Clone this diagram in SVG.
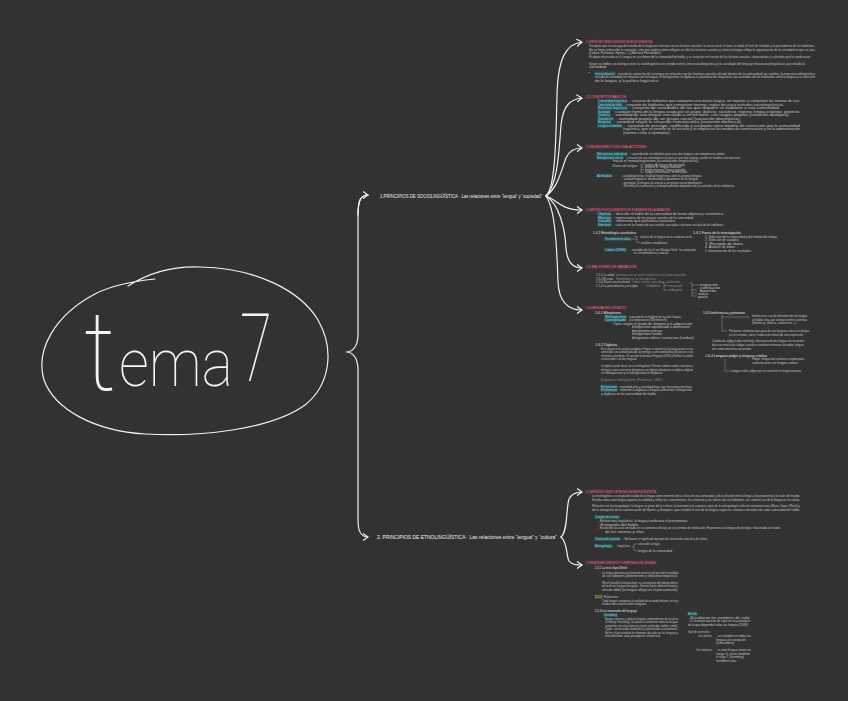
<svg xmlns="http://www.w3.org/2000/svg" width="848" height="701" viewBox="0 0 848 701">
<defs>
<marker id="ah" viewBox="0 0 6 8" refX="5.5" refY="4" markerWidth="6" markerHeight="8" markerUnits="userSpaceOnUse" orient="auto"><path d="M0.5,0.5 L5.5,4 L0.5,7.5" fill="none" stroke="#f2f2f2" stroke-width="1.1" stroke-linecap="round" stroke-linejoin="round"/></marker>
<style>
.ln{fill:none;stroke:#f2f2f2;stroke-width:1.2;stroke-linecap:round}
.tl{fill:none;stroke:#b8b8b8;stroke-width:0.4}
text{font-family:"Liberation Sans",Arial,sans-serif}
.b{font-size:3px;fill:#c2c2c2}
.g{font-size:3px;fill:#8a8a8a}
.w{font-size:3.1px;fill:#e6e6e6}
.h{font-size:3.1px;fill:#e27590}
.hb{fill:#4a2e37}
.c{font-size:3px;fill:#88d4df}
.cb{fill:#2a555c}
.y{font-size:3px;fill:#e0d27a}
.yb{fill:#524d2b}
.m{font-size:4.6px;fill:#f0f0f0}
.big{font-family:Roboto,"Lato","DejaVu Sans",sans-serif;font-weight:100;fill:#f4f4f4}
</style>
</defs>
<rect width="848" height="701" fill="#323232"/>

<g id="tema7">
<path class="ln" d="M128,286 C150,272 175,266 200,267 C255,268 300,290 318,320 C335,350 330,385 305,405 C270,430 200,437 145,434 C95,431 55,410 44,380 C35,350 55,315 95,294 C110,286 135,281 155,279"/>
<text class="big" x="84" y="390" font-size="112" textLength="32" lengthAdjust="spacingAndGlyphs">t</text>
<text class="big" x="119" y="386" font-size="66" textLength="114" lengthAdjust="spacingAndGlyphs">ema</text>
<text class="big" x="240" y="381" font-size="94" textLength="32" lengthAdjust="spacingAndGlyphs">7</text>
</g>

<g id="connectors">
<path class="ln" d="M368,195 C361,195 358,200 358,215 L358,334 C358,346 353,352 346,352 C353,352 358,358 358,370 L358,520 C358,532 361,537 368,537" marker-end="url(#ah)"/>
<path class="ln" d="M358,215 C358,200 361,195 368,195" marker-end="url(#ah)"/>
<path class="ln" d="M546,196 C556,188 556,130 557,95 C558,58 566,44 582,42" marker-end="url(#ah)"/>
<path class="ln" d="M546,196 C558,184 559,150 561,125 C563,106 570,99 582,98" marker-end="url(#ah)"/>
<path class="ln" d="M546,196 C558,188 562,168 566,158 C569,151 574,148 582,148" marker-end="url(#ah)"/>
<path class="ln" d="M546,196 C556,199 560,210 582,210" marker-end="url(#ah)"/>
<path class="ln" d="M546,196 C559,204 565,228 566,248 C567,262 573,268 582,268" marker-end="url(#ah)"/>
<path class="ln" d="M546,196 C556,210 557,255 558,282 C559,302 568,310 582,310" marker-end="url(#ah)"/>
<path class="ln" d="M561,537 C568,531 566,508 569,499 C572,493 577,492 582,492" marker-end="url(#ah)"/>
<path class="ln" d="M561,537 C568,543 566,556 569,561 C572,565 577,565 582,565" marker-end="url(#ah)"/>
</g>

<g id="n1">
<text class="m" x="380" y="197.5" textLength="162" lengthAdjust="spacingAndGlyphs">1.PRINCIPIOS  DE  SOCIOLINGÜÍSTICA · Las relaciones  entre “lengua” y “sociedad”</text>
</g>
<g id="n2">
<text class="m" x="377" y="539" textLength="180" lengthAdjust="spacingAndGlyphs">2. PRINCIPIOS  DE  ETNOLINGÜÍSTICA · Las relaciones entre “lengua” y “cultura”</text>
</g>

<g id="n11">
<rect class="hb" x="585" y="39.5" width="68" height="4.2"/>
<text class="h" x="586" y="42.8" textLength="66" lengthAdjust="spacingAndGlyphs">1.1 DEFINICIÓN Y OBJETO DE ESTUDIO DE LA SOCIOLINGÜÍSTICA</text>
<text class="b" x="589" y="47" textLength="226" lengthAdjust="spacingAndGlyphs">Disciplina que se encarga del estudio de la lengua en relación con los factores sociales: la clase social, el sexo, la edad, el nivel de estudios y la procedencia de los hablantes.</text>
<text class="b" x="589" y="50.5" textLength="226" lengthAdjust="spacingAndGlyphs">No se limita a describir la variación, sino que explica cómo influyen en ella los factores sociales y cómo la lengua refleja la organización de la sociedad en que se usa.</text>
<text class="b" x="589" y="54" textLength="72" lengthAdjust="spacingAndGlyphs">(Labov, Fishman, Hymes...)  (Moreno Fernández)</text>
<text class="b" x="589" y="57.5" textLength="222" lengthAdjust="spacingAndGlyphs">El objeto de estudio es la lengua en uso dentro de la comunidad de habla, y su variación en función de los factores sociales, situacionales y culturales que la condicionan.</text>
<text class="b" x="589" y="64.5" textLength="216" lengthAdjust="spacingAndGlyphs">Según su ámbito, se distingue entre la sociolingüística en sentido estricto (microsociolingüística) y la sociología del lenguaje (macrosociolingüística), que estudia la</text>
<text class="b" x="589" y="68" textLength="18" lengthAdjust="spacingAndGlyphs">sociedad.</text>
<text class="b" x="588" y="74.5">**</text>
<rect class="cb" x="594.5" y="71.7" width="21" height="3.8"/>
<text class="c" x="595" y="74.5" textLength="20" lengthAdjust="spacingAndGlyphs">microsociolingüística</text>
<text class="b" x="618" y="74.5" textLength="197" lengthAdjust="spacingAndGlyphs">estudia la variación de la lengua en relación con los factores sociales desde dentro de la comunidad; en cambio, la macrosociolingüística</text>
<text class="b" x="595" y="78" textLength="220" lengthAdjust="spacingAndGlyphs">estudia la sociedad en relación con la lengua: el bilingüismo, la diglosia, la planificación lingüística, las actitudes de los hablantes ante la lengua y su elección</text>
<text class="b" x="595" y="81.5" textLength="64" lengthAdjust="spacingAndGlyphs">de la lengua, y la política lingüística.</text>
</g>

<g id="n12">
<rect class="hb" x="585" y="94.5" width="42" height="4.2"/>
<text class="h" x="586" y="97.8" textLength="40" lengthAdjust="spacingAndGlyphs">1.2 CONCEPTOS BÁSICOS</text>
<rect class="cb" x="597.5" y="99.2" width="30" height="3.8"/>
<text class="c" x="598" y="102" textLength="29" lengthAdjust="spacingAndGlyphs">Comunidad lingüística</text>
<text class="b" x="630" y="102" textLength="170" lengthAdjust="spacingAndGlyphs">: conjunto de hablantes que comparten una misma lengua, sin importar si comparten las normas de uso.</text>
<rect class="cb" x="597.5" y="102.7" width="25" height="3.8"/>
<text class="c" x="598" y="105.5" textLength="24" lengthAdjust="spacingAndGlyphs">Comunidad de habla</text>
<text class="b" x="624" y="105.5" textLength="160" lengthAdjust="spacingAndGlyphs">: conjunto de hablantes que comparten normas, reglas de uso y actitudes sociolingüísticas.</text>
<rect class="cb" x="597.5" y="106.2" width="30" height="3.8"/>
<text class="c" x="598" y="109" textLength="29" lengthAdjust="spacingAndGlyphs">Repertorio lingüístico</text>
<text class="b" x="630" y="109" textLength="150" lengthAdjust="spacingAndGlyphs">: conjunto de variedades de las que dispone un hablante o una comunidad.</text>
<rect class="cb" x="597.5" y="109.7" width="13" height="3.8"/>
<text class="c" x="598" y="112.5" textLength="12" lengthAdjust="spacingAndGlyphs">Variedad</text>
<text class="b" x="613" y="112.5" textLength="187" lengthAdjust="spacingAndGlyphs">: cualquier forma de la lengua usada por un grupo: dialecto, sociolecto, registro, lengua estándar, geolecto.</text>
<rect class="cb" x="597.5" y="113.2" width="13" height="3.8"/>
<text class="c" x="598" y="116" textLength="12" lengthAdjust="spacingAndGlyphs">Dialecto</text>
<text class="b" x="613" y="116" textLength="177" lengthAdjust="spacingAndGlyphs">: variedad de una lengua vinculada a un territorio, con rasgos propios (variación diatópica).</text>
<rect class="cb" x="597.5" y="116.7" width="16" height="3.8"/>
<text class="c" x="598" y="119.5" textLength="15" lengthAdjust="spacingAndGlyphs">Sociolecto</text>
<text class="b" x="616" y="119.5" textLength="125" lengthAdjust="spacingAndGlyphs">: variedad propia de un grupo social (variación diastrática).</text>
<rect class="cb" x="597.5" y="120.2" width="14" height="3.8"/>
<text class="c" x="598" y="123" textLength="13" lengthAdjust="spacingAndGlyphs">Registro</text>
<text class="b" x="614" y="123" textLength="128" lengthAdjust="spacingAndGlyphs">: variedad según la situación comunicativa (variación diafásica).</text>
<rect class="cb" x="597.5" y="123.7" width="25" height="3.8"/>
<text class="c" x="598" y="126.5" textLength="24" lengthAdjust="spacingAndGlyphs">Lengua estándar</text>
<text class="b" x="625" y="126.5" textLength="175" lengthAdjust="spacingAndGlyphs">: variedad de prestigio, codificada y aceptada como modelo de corrección por la comunidad</text>
<text class="b" x="623" y="130" textLength="177" lengthAdjust="spacingAndGlyphs">lingüística, que se enseña en la escuela y se emplea en los medios de comunicación y en la administración</text>
<text class="b" x="623" y="133.5" textLength="48" lengthAdjust="spacingAndGlyphs">(norma culta o ejemplar).</text>
</g>

<g id="n13">
<rect class="hb" x="585" y="144.5" width="62" height="4.2"/>
<text class="h" x="586" y="147.8" textLength="60" lengthAdjust="spacingAndGlyphs">1.3 BILINGÜISMO Y DIGLOSIA: ACTITUDES</text>
<rect class="cb" x="596.5" y="152.2" width="31" height="3.8"/>
<text class="c" x="597" y="155" textLength="30" lengthAdjust="spacingAndGlyphs">Bilingüismo individual</text>
<text class="b" x="630" y="155" textLength="95" lengthAdjust="spacingAndGlyphs">: capacidad de un individuo para usar dos lenguas con competencia similar.</text>
<rect class="cb" x="596.5" y="155.7" width="27" height="3.8"/>
<text class="c" x="597" y="158.5" textLength="26" lengthAdjust="spacingAndGlyphs">Bilingüismo social</text>
<text class="b" x="626" y="158.5" textLength="114" lengthAdjust="spacingAndGlyphs">: situación de una comunidad en la que se usan dos lenguas; puede ser estable o de transición</text>
<text class="b" x="613" y="162" textLength="86" lengthAdjust="spacingAndGlyphs">hacia el monolingüismo (sustitución lingüística).</text>
<text class="b" x="612" y="167" textLength="26" lengthAdjust="spacingAndGlyphs">Clases de lengua:</text>
<path class="tl" d="M641,164 L641,173 M641,164.5 L644,164.5 M641,167 L644,167 M641,169.5 L644,169.5 M641,172 L644,172"/>
<text class="b" x="645" y="165.5" textLength="40" lengthAdjust="spacingAndGlyphs">lengua A: lengua de prestigio</text>
<text class="b" x="645" y="168" textLength="36" lengthAdjust="spacingAndGlyphs">lengua B: lengua familiar</text>
<text class="b" x="645" y="170.5" textLength="40" lengthAdjust="spacingAndGlyphs">lengua materna / lengua segunda</text>
<text class="b" x="645" y="173" textLength="42" lengthAdjust="spacingAndGlyphs">lengua minoritaria / minorizada</text>
<rect class="cb" x="596.5" y="173.7" width="16" height="3.8"/>
<text class="c" x="597" y="176.5" textLength="15" lengthAdjust="spacingAndGlyphs">Actitudes</text>
<text class="b" x="615" y="176.5">:</text>
<text class="b" x="621" y="176.5" textLength="80" lengthAdjust="spacingAndGlyphs">- actitud positiva: lealtad lingüística ante la propia lengua</text>
<text class="b" x="622" y="180" textLength="76" lengthAdjust="spacingAndGlyphs">- actitud negativa: deslealtad y abandono de la lengua</text>
<text class="b" x="622" y="183.5" textLength="80" lengthAdjust="spacingAndGlyphs">- prestigio: la lengua se asocia a un grupo social dominante</text>
<text class="b" x="622" y="187" textLength="113" lengthAdjust="spacingAndGlyphs">- (Fishman) la sustitución y el desplazamiento dependen de las actitudes de los hablantes.</text>
</g>

<g id="n14">
<rect class="hb" x="585" y="207.5" width="86" height="4.2"/>
<text class="h" x="586" y="210.8" textLength="84" lengthAdjust="spacingAndGlyphs">1.4 MÉTODOS SOCIOLINGÜÍSTICOS: EL ANÁLISIS DE LA VARIACIÓN</text>
<rect class="cb" x="597.5" y="212.2" width="14" height="3.8"/>
<text class="c" x="598" y="215" textLength="13" lengthAdjust="spacingAndGlyphs">Objetivo</text>
<text class="b" x="614" y="215" textLength="110" lengthAdjust="spacingAndGlyphs">: describir el habla de la comunidad de forma objetiva y sistemática.</text>
<rect class="cb" x="597.5" y="215.7" width="14" height="3.8"/>
<text class="c" x="598" y="218.5" textLength="13" lengthAdjust="spacingAndGlyphs">Muestra</text>
<text class="b" x="614" y="218.5" textLength="80" lengthAdjust="spacingAndGlyphs">: representativa de los grupos sociales de la comunidad.</text>
<rect class="cb" x="597.5" y="219.2" width="14" height="3.8"/>
<text class="c" x="598" y="222" textLength="13" lengthAdjust="spacingAndGlyphs">Variable</text>
<text class="b" x="614" y="222" textLength="62" lengthAdjust="spacingAndGlyphs">: elemento que presenta variantes.</text>
<rect class="cb" x="597.5" y="222.7" width="14" height="3.8"/>
<text class="c" x="598" y="225.5" textLength="13" lengthAdjust="spacingAndGlyphs">Variante</text>
<text class="b" x="614" y="225.5" textLength="110" lengthAdjust="spacingAndGlyphs">: cada una de las formas de una variable, asociadas a factores sociales de los hablantes.</text>
<text class="w" x="593" y="233.5" textLength="43" lengthAdjust="spacingAndGlyphs">1.4.1 Metodología cuantitativa</text>
<path class="tl" d="M634,236.5 L637,236.5 L637,242.5 L640,242.5 M632,239 L637,239"/>
<text class="b" x="640" y="237.5" textLength="52" lengthAdjust="spacingAndGlyphs">análisis de la lengua en su contexto social</text>
<rect class="cb" x="604.5" y="237.2" width="27" height="3.8"/>
<text class="c" x="605" y="240" textLength="26" lengthAdjust="spacingAndGlyphs">Procedimiento de análisis</text>
<text class="b" x="641" y="243.5" textLength="26" lengthAdjust="spacingAndGlyphs">análisis estadístico</text>
<rect class="cb" x="604.5" y="247.7" width="22" height="3.8"/>
<text class="c" x="605" y="250.5" textLength="21" lengthAdjust="spacingAndGlyphs">Labov (1966)</text>
<text class="b" x="628" y="250.5" textLength="68" lengthAdjust="spacingAndGlyphs">→ estudio de la /r/ en Nueva York: la variación</text>
<text class="b" x="634" y="254" textLength="34" lengthAdjust="spacingAndGlyphs">es sistemática y social</text>
<text class="w" x="693" y="233.5" textLength="48" lengthAdjust="spacingAndGlyphs">1.4.2 Fases de la investigación</text>
<text class="b" x="705" y="237.5" textLength="72" lengthAdjust="spacingAndGlyphs">1. Selección de la comunidad y del ámbito de trabajo</text>
<text class="b" x="705" y="241" textLength="34" lengthAdjust="spacingAndGlyphs">2. Selección de variables</text>
<text class="b" x="705" y="244.5" textLength="38" lengthAdjust="spacingAndGlyphs">3. Recogida de datos</text>
<text class="b" x="705" y="248" textLength="30" lengthAdjust="spacingAndGlyphs">4. Análisis de datos</text>
<text class="b" x="705" y="251.5" textLength="46" lengthAdjust="spacingAndGlyphs">5. Interpretación de los resultados</text>
</g>

<g id="n15">
<rect class="hb" x="585" y="264.5" width="52" height="4.2"/>
<text class="h" x="586" y="267.8" textLength="50" lengthAdjust="spacingAndGlyphs">1.5 FACTORES DE VARIACIÓN</text>
<text class="b" x="596" y="276" textLength="18" lengthAdjust="spacingAndGlyphs">1.5.1 La edad</text>
<text class="g" x="616" y="276" textLength="70" lengthAdjust="spacingAndGlyphs">generaciones y cambio lingüístico en tiempo aparente</text>
<text class="b" x="596" y="279.5" textLength="17" lengthAdjust="spacingAndGlyphs">1.5.2 El sexo</text>
<text class="g" x="616" y="279.5" textLength="40" lengthAdjust="spacingAndGlyphs">hombres y mujeres</text>
<text class="b" x="596" y="283" textLength="34" lengthAdjust="spacingAndGlyphs">1.5.3 Nivel sociocultural</text>
<text class="g" x="632" y="283" textLength="48" lengthAdjust="spacingAndGlyphs">clase social, estudios, profesión</text>
<text class="b" x="596" y="286.5" textLength="42" lengthAdjust="spacingAndGlyphs">1.5.4 La procedencia y el origen</text>
<text class="g" x="640" y="286.5" textLength="20" lengthAdjust="spacingAndGlyphs">→ hábitat</text>
<path class="tl" d="M662,283 L664,283 L664,290 L667,290 M664,285.5 L667,285.5"/>
<text class="g" x="668" y="286.5" textLength="14" lengthAdjust="spacingAndGlyphs">rural</text>
<text class="g" x="668" y="291" textLength="14" lengthAdjust="spacingAndGlyphs">urbano</text>
<text class="g" x="684" y="288.5">→</text>
<path class="tl" d="M690,283 L692,283 L692,296 M692,285 L699,285 M692,290 L697,290 M692,293 L697,293 M692,296 L697,296"/>
<text class="b" x="700" y="285.5" textLength="18" lengthAdjust="spacingAndGlyphs">migración</text>
<text class="b" x="700" y="288.5" textLength="20" lengthAdjust="spacingAndGlyphs">contacto</text>
<text class="b" x="700" y="291.5" textLength="16" lengthAdjust="spacingAndGlyphs">barrio</text>
<text class="b" x="698" y="294.5" textLength="10" lengthAdjust="spacingAndGlyphs">zona</text>
<text class="b" x="698" y="297.5" textLength="10" lengthAdjust="spacingAndGlyphs">país</text>
</g>

<g id="n16">
<rect class="hb" x="585" y="306" width="42" height="4.2"/>
<text class="h" x="586" y="309.3" textLength="40" lengthAdjust="spacingAndGlyphs">1.6 LENGUAS EN CONTACTO</text>
<text class="w" x="595" y="313.5" textLength="26" lengthAdjust="spacingAndGlyphs">1.6.1 Bilingüismo</text>
<rect class="cb" x="604.5" y="314.7" width="22" height="3.8"/>
<text class="c" x="605" y="317.5" textLength="21" lengthAdjust="spacingAndGlyphs">Bilingüismo</text>
<text class="b" x="629" y="317.5" textLength="52" lengthAdjust="spacingAndGlyphs">capacidad de un hablante de usar dos lenguas</text>
<rect class="cb" x="604.5" y="318.2" width="22" height="3.8"/>
<text class="c" x="605" y="321" textLength="21" lengthAdjust="spacingAndGlyphs">coordinado</text>
<text class="b" x="629" y="321" textLength="38" lengthAdjust="spacingAndGlyphs">o compuesto (Weinreich)</text>
<text class="b" x="613" y="324.5" textLength="80" lengthAdjust="spacingAndGlyphs">Tipos según el grado de dominio y la adquisición:</text>
<text class="b" x="632" y="328" textLength="58" lengthAdjust="spacingAndGlyphs">bilingüismo equilibrado o dominante</text>
<text class="b" x="632" y="331.5" textLength="30" lengthAdjust="spacingAndGlyphs">bilingüismo precoz</text>
<text class="b" x="632" y="335" textLength="30" lengthAdjust="spacingAndGlyphs">bilingüismo tardío</text>
<text class="b" x="632" y="338.5" textLength="62" lengthAdjust="spacingAndGlyphs">bilingüismo aditivo / sustractivo (Lambert)</text>
<text class="w" x="595" y="345.5" textLength="22" lengthAdjust="spacingAndGlyphs">1.6.2 Diglosia</text>
<text class="b" x="601" y="349.5" textLength="92" lengthAdjust="spacingAndGlyphs">Es la situación en la que dos variedades o lenguas se reparten las funciones sociales en una</text>
<text class="b" x="601" y="353" textLength="92" lengthAdjust="spacingAndGlyphs">comunidad: una variedad alta (A), de prestigio, y una variedad baja (B) para los usos</text>
<text class="b" x="601" y="356.5" textLength="92" lengthAdjust="spacingAndGlyphs">informales y familiares. El concepto lo introduce Ferguson (1959) y Fishman lo amplía</text>
<text class="b" x="601" y="360" textLength="36" lengthAdjust="spacingAndGlyphs">a situaciones con dos lenguas.</text>
<text class="b" x="601" y="367" textLength="92" lengthAdjust="spacingAndGlyphs">La diglosia puede darse con o sin bilingüismo; Fishman combina ambos conceptos y</text>
<text class="b" x="601" y="370.5" textLength="92" lengthAdjust="spacingAndGlyphs">distingue cuatro situaciones: bilingüismo con diglosia, bilingüismo sin diglosia, diglosia</text>
<text class="b" x="601" y="374" textLength="62" lengthAdjust="spacingAndGlyphs">sin bilingüismo y ni bilingüismo ni diglosia.</text>
<text class="g" x="601" y="380.5" textLength="62" lengthAdjust="spacingAndGlyphs">Diglosia ≠ bilingüismo  (Fishman, 1967)</text>
<rect class="cb" x="600.5" y="384.7" width="17" height="3.8"/>
<text class="c" x="601" y="387.5" textLength="16" lengthAdjust="spacingAndGlyphs">Ferguson</text>
<text class="b" x="620" y="387.5" textLength="72" lengthAdjust="spacingAndGlyphs">variedad alta y variedad baja con funciones distintas</text>
<rect class="cb" x="600.5" y="388.2" width="17" height="3.8"/>
<text class="c" x="601" y="391" textLength="16" lengthAdjust="spacingAndGlyphs">Fishman</text>
<text class="b" x="620" y="391" textLength="72" lengthAdjust="spacingAndGlyphs">extiende la diglosia a lenguas diferentes: bilingüismo</text>
<text class="b" x="601" y="394.5" textLength="56" lengthAdjust="spacingAndGlyphs">y diglosia en la comunidad de habla.</text>
<text class="w" x="703" y="313.5" textLength="42" lengthAdjust="spacingAndGlyphs">1.6.3 Interferencias y préstamos</text>
<path class="tl" d="M722,315 L722,331 L727,331 M722,317 L750,317"/>
<text class="b" x="752" y="317" textLength="55" lengthAdjust="spacingAndGlyphs">Interferencia: uso de elementos de una lengua</text>
<text class="b" x="752" y="320.5" textLength="55" lengthAdjust="spacingAndGlyphs">al hablar otra, por contacto entre sistemas</text>
<text class="b" x="752" y="324" textLength="44" lengthAdjust="spacingAndGlyphs">(fonética, léxica, sintáctica...)</text>
<text class="b" x="729" y="332" textLength="80" lengthAdjust="spacingAndGlyphs">Préstamo: elemento que pasa de una lengua a otra y se integra</text>
<text class="b" x="729" y="335.5" textLength="74" lengthAdjust="spacingAndGlyphs">en el sistema; calco: traducción literal de una expresión</text>
<text class="b" x="712" y="342.2" textLength="92" lengthAdjust="spacingAndGlyphs">Cambio de código (code-switching): alternancia de dos lenguas en un mismo</text>
<text class="b" x="712" y="346" textLength="92" lengthAdjust="spacingAndGlyphs">discurso; mezcla de códigos cuando se combinan elementos de ambas lenguas</text>
<text class="b" x="712" y="349.8" textLength="40" lengthAdjust="spacingAndGlyphs">en una misma oración.</text>
<text class="w" x="705" y="357" textLength="62" lengthAdjust="spacingAndGlyphs">1.6.4 Lenguas pidgin y lenguas criollas</text>
<path class="tl" d="M725,358.5 L725,371 L730,371"/>
<text class="b" x="752" y="360" textLength="52" lengthAdjust="spacingAndGlyphs">Pidgin: lengua de contacto surgida para</text>
<text class="b" x="752" y="363.5" textLength="46" lengthAdjust="spacingAndGlyphs">comunicarse sin lengua común</text>
<text class="b" x="731" y="372" textLength="70" lengthAdjust="spacingAndGlyphs">Lengua criolla: pidgin que se convierte en lengua materna</text>
</g>

<g id="n21">
<rect class="hb" x="585" y="489.5" width="72" height="4.2"/>
<text class="h" x="586" y="492.8" textLength="70" lengthAdjust="spacingAndGlyphs">2.1 DEFINICIÓN Y OBJETO DE ESTUDIO DE LA ETNOLINGÜÍSTICA</text>
<text class="b" x="592" y="497" textLength="208" lengthAdjust="spacingAndGlyphs">La etnolingüística se ocupa del estudio de la lengua como elemento de la cultura de una comunidad, y de la relación entre la lengua, el pensamiento y la visión del mundo.</text>
<text class="b" x="592" y="500.5" textLength="208" lengthAdjust="spacingAndGlyphs">Estudia cómo cada lengua organiza la realidad y refleja los conocimientos, las creencias y los valores de sus hablantes, así como el uso de la lengua en la cultura.</text>
<text class="b" x="592" y="507" textLength="208" lengthAdjust="spacingAndGlyphs">Relación con la antropología: la lengua es parte de la cultura, la transmite y la expresa; nace de la antropología cultural norteamericana (Boas, Sapir, Whorf) y</text>
<text class="b" x="592" y="510.5" textLength="208" lengthAdjust="spacingAndGlyphs">de la etnografía de la comunicación de Hymes y Gumperz, que estudia el uso de la lengua según las normas culturales de cada comunidad de habla.</text>
<rect class="cb" x="594.5" y="515.2" width="25" height="3.8"/>
<text class="c" x="595" y="518" textLength="24" lengthAdjust="spacingAndGlyphs">Campos de estudio</text>
<text class="b" x="598" y="522" textLength="90" lengthAdjust="spacingAndGlyphs">- Relativismo lingüístico: la lengua condiciona el pensamiento.</text>
<text class="b" x="598" y="525.5" textLength="40" lengthAdjust="spacingAndGlyphs">- Etnografía del habla</text>
<text class="b" x="598" y="529" textLength="182" lengthAdjust="spacingAndGlyphs">- Estudio de los actos de habla en su contexto cultural y de sus normas de interacción. Representa una lengua de prestigio, relacionada al estudio</text>
<text class="b" x="605" y="532.5" textLength="40" lengthAdjust="spacingAndGlyphs">de las normas y ritos.</text>
<rect class="cb" x="594.5" y="537.2" width="26" height="3.8"/>
<text class="c" x="595" y="540" textLength="25" lengthAdjust="spacingAndGlyphs">Teoría del contexto</text>
<text class="b" x="623" y="540" textLength="84" lengthAdjust="spacingAndGlyphs">: Malinowski: el significado depende del contexto de situación y de cultura</text>
<rect class="cb" x="594.5" y="544.2" width="18" height="3.8"/>
<text class="c" x="595" y="547" textLength="17" lengthAdjust="spacingAndGlyphs">Antropología</text>
<text class="b" x="614" y="547" textLength="16" lengthAdjust="spacingAndGlyphs">→ lingüística</text>
<path class="tl" d="M632,547 L634,547 M634,544 L634,550.5 L637,550.5 M634,544 L637,544"/>
<text class="b" x="638" y="545" textLength="22" lengthAdjust="spacingAndGlyphs">cultura de la lengua</text>
<text class="b" x="638" y="551.5" textLength="34" lengthAdjust="spacingAndGlyphs">lengua de la comunidad</text>
</g>

<g id="n22">
<rect class="hb" x="585" y="560.5" width="72" height="4.2"/>
<text class="h" x="586" y="563.8" textLength="70" lengthAdjust="spacingAndGlyphs">2.2 RELATIVISMO LINGÜÍSTICO Y UNIVERSALES DEL LENGUAJE</text>
<text class="w" x="595" y="568.5" textLength="32" lengthAdjust="spacingAndGlyphs">2.2.1 La tesis Sapir-Whorf</text>
<text class="b" x="602" y="573.5" textLength="76" lengthAdjust="spacingAndGlyphs">La lengua determina la forma de pensar y de percibir la realidad</text>
<text class="b" x="602" y="577" textLength="76" lengthAdjust="spacingAndGlyphs">de sus hablantes (determinismo y relativismo lingüístico).</text>
<text class="b" x="602" y="583.5" textLength="76" lengthAdjust="spacingAndGlyphs">Whorf estudió la lengua hopi: su concepción del tiempo difiere</text>
<text class="b" x="602" y="587" textLength="76" lengthAdjust="spacingAndGlyphs">de la de las lenguas europeas. Versión fuerte (determinismo) y</text>
<text class="b" x="602" y="590.5" textLength="76" lengthAdjust="spacingAndGlyphs">versión débil (la lengua influye en el pensamiento).</text>
<rect class="yb" x="594.5" y="594.8" width="8" height="3.8"/>
<text class="y" x="595" y="597.5" textLength="7" lengthAdjust="spacingAndGlyphs">2.2.2</text>
<text class="b" x="604" y="597.5" textLength="14" lengthAdjust="spacingAndGlyphs">Relativismo</text>
<text class="b" x="602" y="601.5" textLength="76" lengthAdjust="spacingAndGlyphs">Cada lengua categoriza la realidad de un modo distinto: no hay</text>
<text class="b" x="602" y="605" textLength="45" lengthAdjust="spacingAndGlyphs">traducción exacta entre lenguas.</text>
<text class="w" x="595" y="611.5" textLength="42" lengthAdjust="spacingAndGlyphs">2.2.3 Los universales del lenguaje</text>
<rect class="cb" x="603.5" y="613.2" width="14" height="3.8"/>
<text class="c" x="604" y="616" textLength="13" lengthAdjust="spacingAndGlyphs">Greenberg</text>
<text class="b" x="605" y="619.5" textLength="73" lengthAdjust="spacingAndGlyphs">Rasgos comunes a todas las lenguas, independientes de la cultura</text>
<text class="b" x="605" y="623" textLength="73" lengthAdjust="spacingAndGlyphs">(Chomsky, Greenberg). Se oponen al relativismo: todas las lenguas</text>
<text class="b" x="605" y="626.5" textLength="73" lengthAdjust="spacingAndGlyphs">comparten estructuras básicas (sujeto, predicado, nombre, verbo).</text>
<text class="b" x="605" y="630" textLength="73" lengthAdjust="spacingAndGlyphs">Tipos: universales formales y universales sustantivos.</text>
<text class="b" x="605" y="633.5" textLength="73" lengthAdjust="spacingAndGlyphs">Berlin y Kay estudian los términos de color en las lenguas y</text>
<text class="b" x="605" y="637" textLength="56" lengthAdjust="spacingAndGlyphs">encuentran una jerarquía universal.</text>
<rect class="cb" x="687.5" y="611.7" width="10" height="3.8"/>
<text class="c" x="688" y="614.5" textLength="9" lengthAdjust="spacingAndGlyphs">Berlin</text>
<text class="b" x="688" y="618.5" textLength="62" lengthAdjust="spacingAndGlyphs">- Estudiaron los nombres de color</text>
<text class="b" x="688" y="622" textLength="62" lengthAdjust="spacingAndGlyphs">- 11 términos básicos de color en una jerarquía</text>
<text class="b" x="688" y="625.5" textLength="60" lengthAdjust="spacingAndGlyphs">de la que dependen todas las lenguas (1969)</text>
<text class="b" x="688" y="633" textLength="22" lengthAdjust="spacingAndGlyphs">Tipos de universales:</text>
<text class="b" x="697" y="637" textLength="15" lengthAdjust="spacingAndGlyphs">- Univ. absolutos</text>
<text class="b" x="716" y="637" textLength="35" lengthAdjust="spacingAndGlyphs">: se cumplen en todas las</text>
<text class="b" x="716" y="640.5" textLength="30" lengthAdjust="spacingAndGlyphs">lenguas sin excepción</text>
<text class="b" x="716" y="644" textLength="18" lengthAdjust="spacingAndGlyphs">(vocales)</text>
<text class="b" x="695" y="651" textLength="17" lengthAdjust="spacingAndGlyphs">- Univ. implicativos</text>
<text class="b" x="716" y="651" textLength="35" lengthAdjust="spacingAndGlyphs">: si una lengua tiene un</text>
<text class="b" x="716" y="654.5" textLength="34" lengthAdjust="spacingAndGlyphs">rasgo X, tiene también</text>
<text class="b" x="716" y="658" textLength="28" lengthAdjust="spacingAndGlyphs">el rasgo Y (Greenberg)</text>
<text class="b" x="716" y="661.5" textLength="20" lengthAdjust="spacingAndGlyphs">tendencias</text>
</g>
</svg>
